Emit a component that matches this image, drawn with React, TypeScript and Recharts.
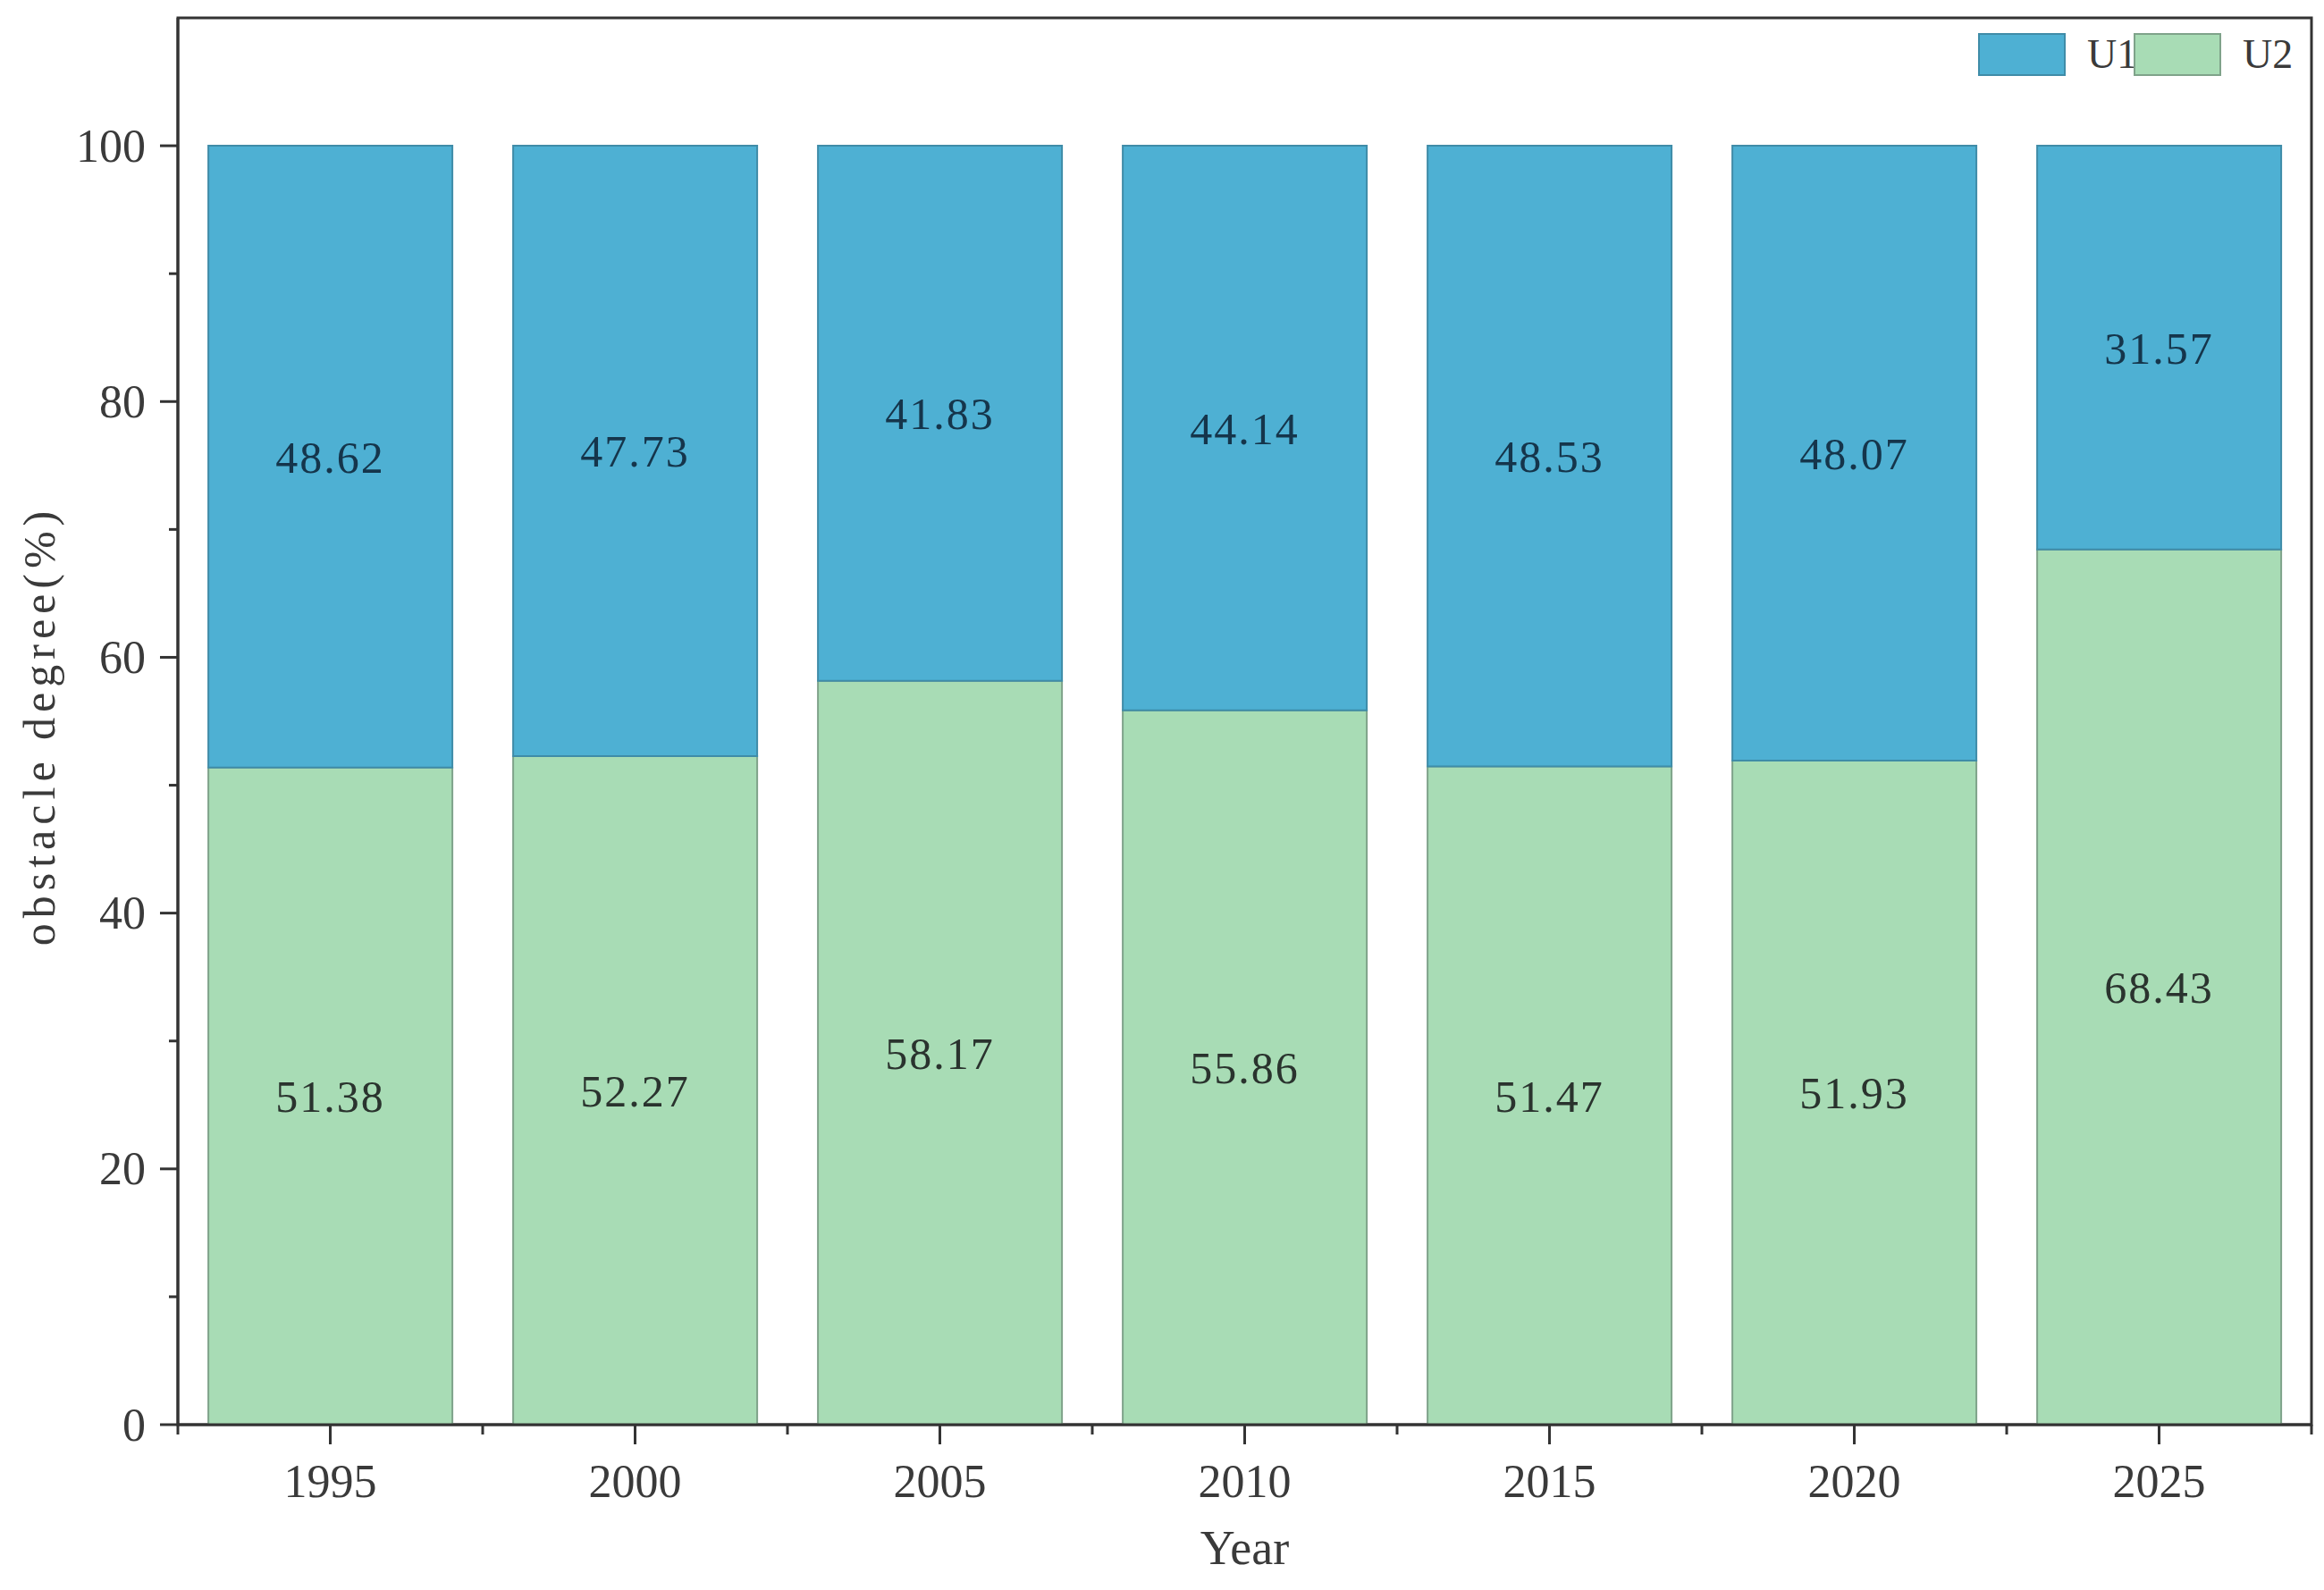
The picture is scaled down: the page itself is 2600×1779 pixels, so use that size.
import React from "react"
import { Bar, BarChart, LabelList, Legend, ReferenceArea, XAxis, YAxis } from "recharts"

const years = ["1995", "2000", "2005", "2010", "2015", "2020", "2025"]
const u1 = [48.62, 47.73, 41.83, 44.14, 48.53, 48.07, 31.57]
const u2 = [51.38, 52.27, 58.17, 55.86, 51.47, 51.93, 68.43]
const yTicks = [0, 10, 20, 30, 40, 50, 60, 70, 80, 90, 100]

const data = years.map((year, i) => ({ year, U1: u1[i], U2: u2[i] }))

const W = 2600
const H = 1779
const LEFT = 199
const RIGHT = 14
const TOP = 20
const XAXIS_H = 185
const BAND = (W - LEFT - RIGHT) / years.length

const FONT = "'Liberation Serif', 'DejaVu Serif', serif"
const AXIS = "#333333"
const BLUE = "#4eb0d3"
const BLUE_EDGE = "#3f8ca8"
const GREEN = "#a8dcb5"
const GREEN_EDGE = "#7fa38a"

const series = [
  { name: "U1", fill: BLUE, stroke: BLUE_EDGE },
  { name: "U2", fill: GREEN, stroke: GREEN_EDGE },
]

function XTick(props: any) {
  const { x, y, payload, index } = props
  const half = BAND / 2
  return (
    <g>
      <line x1={x} x2={x} y1={y} y2={y + 22} stroke={AXIS} strokeWidth={3} />
      <line x1={x - half} x2={x - half} y1={y} y2={y + 11} stroke={AXIS} strokeWidth={3} />
      {index === years.length - 1 && (
        <line x1={x + half} x2={x + half} y1={y} y2={y + 11} stroke={AXIS} strokeWidth={3} />
      )}
      <text x={x} y={y + 81} textAnchor="middle" fontFamily={FONT} fontSize={52} fill="#3a3a3a">
        {payload.value}
      </text>
    </g>
  )
}

function YTick(props: any) {
  const { x, y, payload } = props
  const major = payload.value % 20 === 0
  return (
    <g>
      <line x1={x - (major ? 20 : 10)} x2={x} y1={y} y2={y} stroke={AXIS} strokeWidth={3} />
      {major && (
        <text
          x={x - 36}
          y={y}
          textAnchor="end"
          dominantBaseline="central"
          fontFamily={FONT}
          fontSize={52}
          fill="#3a3a3a"
        >
          {payload.value}
        </text>
      )}
    </g>
  )
}

function LegendContent() {
  return (
    <div style={{ display: "flex", alignItems: "center", fontFamily: FONT, fontSize: 46, color: "#3a3a3a" }}>
      {series.map((s) => (
        <div key={s.name} style={{ display: "flex", alignItems: "center" }}>
          <span
            style={{
              display: "inline-block",
              width: 98,
              height: 48,
              background: s.fill,
              border: `2px solid ${s.stroke}`,
              boxSizing: "border-box",
            }}
          />
          <span style={{ display: "inline-block", marginLeft: 24, width: 52, lineHeight: "48px" }}>{s.name}</span>
        </div>
      ))}
    </div>
  )
}

export default function App() {
  return (
    <div style={{ position: "absolute", left: 0, top: 0, background: "#fff" }}>
      <BarChart
        width={W}
        height={H}
        data={data}
        margin={{ top: TOP, right: RIGHT, left: 0, bottom: 0 }}
        barCategoryGap="10%"
      >
        <ReferenceArea y1={0} y2={110} fill="none" fillOpacity={0} stroke={AXIS} strokeWidth={3} ifOverflow="visible" />
        <XAxis
          dataKey="year"
          height={XAXIS_H}
          interval={0}
          tickSize={0}
          tickMargin={0}
          tickLine={false}
          axisLine={{ stroke: AXIS, strokeWidth: 3 }}
          tick={<XTick />}
          label={() => (
            <text
              x={LEFT + (W - LEFT - RIGHT) / 2}
              y={H - 29}
              textAnchor="middle"
              fontFamily={FONT}
              fontSize={54}
              fill="#3a3a3a"
            >
              Year
            </text>
          )}
        />
        <YAxis
          width={LEFT}
          domain={[0, 110]}
          ticks={yTicks}
          interval={0}
          tickSize={0}
          tickMargin={0}
          tickLine={false}
          axisLine={{ stroke: AXIS, strokeWidth: 3 }}
          tick={<YTick />}
          label={() => (
            <text
              x={61}
              y={812}
              transform="rotate(-90 61 812)"
              textAnchor="middle"
              fontFamily={FONT}
              fontSize={50}
              letterSpacing={6}
              fill="#3a3a3a"
            >
              obstacle degree(%)
            </text>
          )}
        />
        <Legend
          layout="vertical"
          align="center"
          verticalAlign="middle"
          content={<LegendContent />}
          wrapperStyle={{ left: 2213, top: 37, width: 360, height: 48 }}
        />
        <Bar dataKey="U2" stackId="a" fill={GREEN} stroke={GREEN_EDGE} strokeWidth={2} isAnimationActive={false}>
          <LabelList
            dataKey="U2"
            position="center"
            formatter={(v: any) => Number(v).toFixed(2)}
            fill="#2a332e"
            fontSize={50}
            fontFamily={FONT}
            letterSpacing={2}
          />
        </Bar>
        <Bar dataKey="U1" stackId="a" fill={BLUE} stroke={BLUE_EDGE} strokeWidth={2} isAnimationActive={false}>
          <LabelList
            dataKey="U1"
            position="center"
            formatter={(v: any) => Number(v).toFixed(2)}
            fill="#15354b"
            fontSize={50}
            fontFamily={FONT}
            letterSpacing={2}
          />
        </Bar>
      </BarChart>
    </div>
  )
}
